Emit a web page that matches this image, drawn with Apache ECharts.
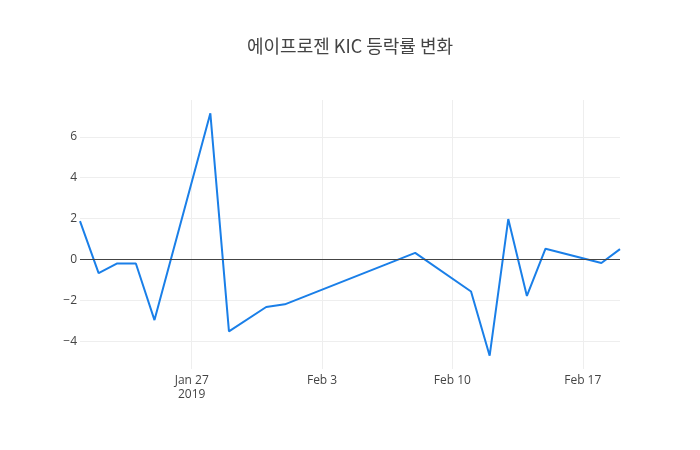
<!DOCTYPE html>
<html>
<head>
<meta charset="utf-8">
<script src="https://cdn.jsdelivr.net/npm/echarts@6/dist/echarts.min.js"></script>
<style>html,body{margin:0;padding:0;background:#fff}#c{width:700px;height:450px}</style>
</head>
<body>
<div id="c"></div>
<script>
const titleText = '에이프로젠 KIC 등락률 변화';
const dates = ['2019-01-21','2019-01-22','2019-01-23','2019-01-24','2019-01-25','2019-01-28','2019-01-29','2019-01-31','2019-02-01','2019-02-08','2019-02-11','2019-02-12','2019-02-13','2019-02-14','2019-02-15','2019-02-18','2019-02-19'];
const changes = [1.88,-0.66,-0.19,-0.19,-2.96,7.15,-3.51,-2.32,-2.19,0.33,-1.56,-4.70,1.98,-1.78,0.53,-0.17,0.51];
const xTickDates = ['2019-01-27','2019-02-03','2019-02-10','2019-02-17'];
const xTickLabels = ['Jan 27\n2019','Feb 3','Feb 10','Feb 17'];
const yTicks = [-4,-2,0,2,4,6];

// day number (days since 2019-01-01) for each date
function dayNum(s){ const p = s.split('-').map(Number); return Math.round((Date.UTC(p[0], p[1]-1, p[2]) - Date.UTC(2019,0,1)) / 86400000); }
const xTickDays = xTickDates.map(dayNum);
const labelMap = {};
xTickDays.forEach((t,i)=>{ labelMap[t] = xTickLabels[i]; });

const chart = echarts.init(document.getElementById('c'));
chart.setOption({
  animation: false,
  title: {
    text: titleText, left: 'center', top: 32,
    textStyle: { fontFamily: 'Noto Sans CJK KR', fontSize: 18, fontWeight: 'normal', color: '#444' }
  },
  grid: { left: 80, right: 80, top: 100, bottom: 81 },
  xAxis: {
    type: 'value',
    min: dayNum(dates[0]), max: dayNum(dates[dates.length-1]),
    axisLine: { show: false },
    axisTick: { show: false, customValues: xTickDays },
    splitLine: { show: true, lineStyle: { color: '#eeeeee', width: 1 } },
    axisLabel: {
      customValues: xTickDays,
      formatter: v => labelMap[v] || '',
      color: '#444', fontFamily: 'Open Sans', fontSize: 12, margin: 5, lineHeight: 14
    }
  },
  yAxis: {
    type: 'value', min: -5.35, max: 7.8,
    axisLine: { show: false },
    axisTick: { show: false, customValues: yTicks },
    splitLine: { show: true, lineStyle: { color: '#eeeeee', width: 1 } },
    axisLabel: {
      customValues: yTicks,
      formatter: v => (v < 0 ? '\u2212' + Math.abs(v) : String(v)),
      color: '#444', fontFamily: 'Open Sans', fontSize: 12, margin: 3
    }
  },
  series: [{
    type: 'line',
    data: dates.map((d,i)=>[dayNum(d), changes[i]]),
    showSymbol: false,
    lineStyle: { color: '#1a7fe8', width: 2 },
    itemStyle: { color: '#1a7fe8' },
    markLine: {
      silent: true, symbol: 'none', label: { show: false },
      lineStyle: { color: '#444', width: 1, type: 'solid' },
      data: [{ yAxis: 0 }]
    }
  }]
});
</script>
</body>
</html>
